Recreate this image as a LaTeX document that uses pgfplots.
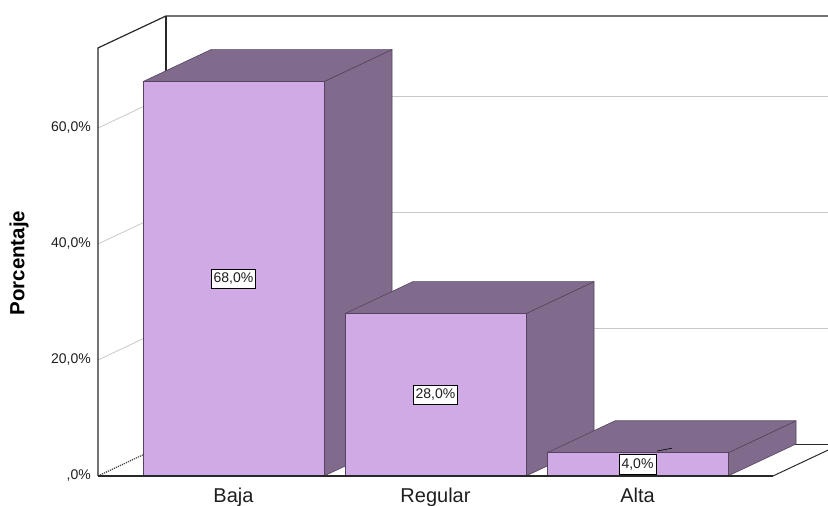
\documentclass[border=0pt]{standalone}
\usepackage{pgfplots}
\pgfplotsset{compat=1.18}
\usepackage{fontspec}
\setmainfont{Liberation Sans}
\definecolor{frontc}{RGB}{208,170,228}
\definecolor{sidec}{RGB}{128,107,141}
\definecolor{edgec}{RGB}{85,68,95}
\definecolor{gridc}{RGB}{200,200,200}
\definecolor{wallc}{RGB}{40,40,40}
\definecolor{textc}{RGB}{30,30,30}

% depth offset: 68 px to the right, 5.517 % upwards
\newcommand{\threedbar}[2]{% #1 = left edge of front face (px), #2 = value (%)
  \pgfmathsetmacro\xr{#1+181}%
  \pgfmathsetmacro\xrb{#1+249}%
  \pgfmathsetmacro\xlb{#1+68}%
  \pgfmathsetmacro\vb{#2+5.517}%
  \edef\tmp{%
    \noexpand\addplot[fill=sidec,draw=edgec,line width=0.6pt,line join=round] coordinates {(\xr,0) (\xrb,5.517) (\xrb,\vb) (\xr,#2) (\xr,0)};
    \noexpand\addplot[fill=sidec,draw=edgec,line width=0.6pt,line join=round] coordinates {(#1,#2) (\xlb,\vb) (\xrb,\vb) (\xr,#2) (#1,#2)};
    \noexpand\addplot[fill=frontc,draw=edgec,line width=0.6pt,line join=round] coordinates {(#1,0) (#1,#2) (\xr,#2) (\xr,0) (#1,0)};
  }%
  \tmp}

\begin{document}
\begin{tikzpicture}
\begin{axis}[
  width=828pt, height=506pt, scale only axis,
  xmin=0, xmax=828, ymin=-5.1724, ymax=82.069,
  hide axis, clip=true,
]
% back wall gridlines
\addplot[gridc, line width=0.8pt] coordinates {(166,25.517) (828,25.517)};
\addplot[gridc, line width=0.8pt] coordinates {(166,45.517) (828,45.517)};
\addplot[gridc, line width=0.8pt] coordinates {(166,65.517) (828,65.517)};
% left wall gridlines
\addplot[gridc, line width=0.8pt] coordinates {(98,20) (166,25.517)};
\addplot[gridc, line width=0.8pt] coordinates {(98,40) (166,45.517)};
\addplot[gridc, line width=0.8pt] coordinates {(98,60) (166,65.517)};
% floor
\addplot[darkgray, line width=1.2pt, densely dotted] coordinates {(98,0) (166,5.517)};
\addplot[wallc, line width=0.8pt] coordinates {(166,5.517) (828,5.517)};
\addplot[wallc, line width=1pt] coordinates {(773,0) (841,5.517)};
% walls
\addplot[wallc, line width=1.2pt] coordinates {(98,0) (98,73.8) (166,79.317) (828,79.317)};
\addplot[wallc, line width=1.2pt] coordinates {(166,5.517) (166,79.317)};

% bars: Baja 68, Regular 28, Alta 4
\threedbar{143}{68}
\threedbar{345}{28}
\threedbar{547}{4}

% floor front edge
\addplot[wallc, line width=1.3pt] coordinates {(98,0) (773,0)};

% leader line of the small label
\addplot[black, line width=0.6pt] coordinates {(657,4.3) (672,4.8)};

% value labels
\node[draw=black, fill=white, line width=0.8pt, inner xsep=2.5pt, inner ysep=4pt, text=textc, font=\fontsize{14}{16}\selectfont] at (axis cs:233.5,34) {68,0\%};
\node[draw=black, fill=white, line width=0.8pt, inner xsep=2.5pt, inner ysep=4pt, text=textc, font=\fontsize{14}{16}\selectfont] at (axis cs:435.5,14) {28,0\%};
\node[draw=black, fill=white, line width=0.8pt, inner xsep=2.5pt, inner ysep=4pt, text=textc, font=\fontsize{14}{16}\selectfont] at (axis cs:637.5,2) {4,0\%};

% y tick labels
\foreach \v/\t in {0/{,0\%},20/{20,0\%},40/{40,0\%},60/{60,0\%}}{
  \edef\tmp{\noexpand\node[anchor=east, inner sep=0pt, text=textc, font=\noexpand\fontsize{14}{16}\noexpand\selectfont] at (axis cs:91,\v) {\t};}
  \tmp
}
% x category labels
\node[anchor=base, inner sep=0pt, text=textc, font=\fontsize{20}{24}\selectfont] at (axis cs:233.5,-4.6) {Baja};
\node[anchor=base, inner sep=0pt, text=textc, font=\fontsize{20}{24}\selectfont] at (axis cs:435.5,-4.6) {Regular};
\node[anchor=base, inner sep=0pt, text=textc, font=\fontsize{20}{24}\selectfont] at (axis cs:637.5,-4.6) {Alta};
% y label
\node[rotate=90, inner sep=0pt, font=\bfseries\fontsize{20.5}{24}\selectfont] at (axis cs:19,36.7) {Porcentaje};
\end{axis}
\pgfresetboundingbox
\path (current axis.south west) rectangle (current axis.north east);
\end{tikzpicture}
\end{document}
